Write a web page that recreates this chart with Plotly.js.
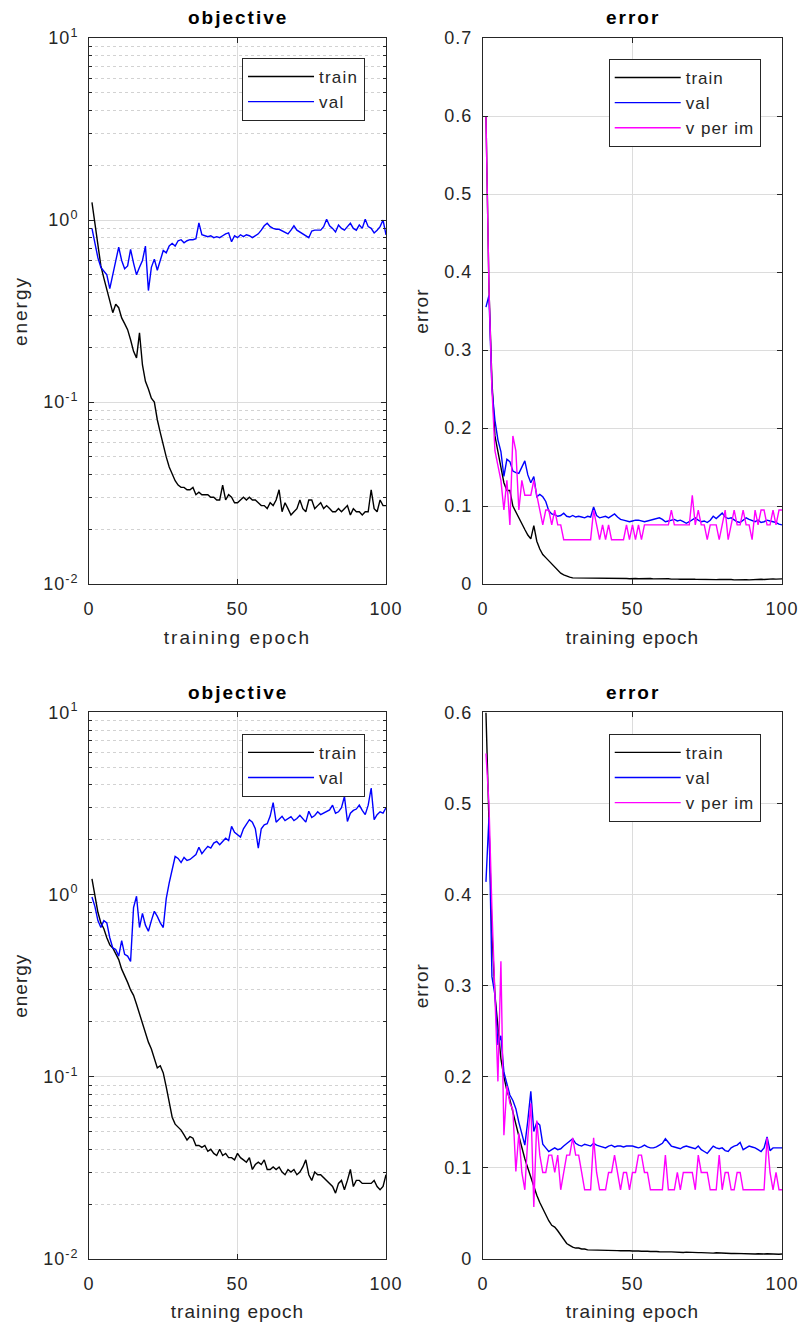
<!DOCTYPE html>
<html>
<head>
<meta charset="utf-8">
<script src="https://cdn.plot.ly/plotly-3.0.1.min.js"></script>
<style>
  html, body { margin: 0; padding: 0; background: #fff; }
  #chart { width: 803px; height: 1333px; }
  text { letter-spacing: 1px; }
  .xtitle, .ytitle, .annotation-text { letter-spacing: 2px; }
  .legendtext { letter-spacing: 1.2px; }
</style>
</head>
<body>
<div id="chart"></div>
<script>
// ---------- data (epochs 1..100) ----------
const epochs = Array.from({length: 100}, (_, i) => i + 1);

// run 1 : objective
const trainObj1 = [1.25,0.95,0.70,0.56,0.48,0.42,0.36,0.31,0.345,0.33,
0.29,0.27,0.25,0.22,0.19,0.175,0.24,0.16,0.13,0.118,
0.105,0.100,0.080,0.068,0.058,0.050,0.044,0.040,0.037,0.035,
0.034,0.034,0.033,0.033,0.034,0.031,0.032,0.031,0.031,0.031,
0.030,0.030,0.029,0.029,0.035,0.029,0.031,0.030,0.028,0.028,
0.029,0.030,0.029,0.030,0.029,0.029,0.028,0.027,0.027,0.026,
0.028,0.027,0.029,0.033,0.025,0.028,0.026,0.024,0.025,0.026,
0.029,0.026,0.025,0.029,0.029,0.026,0.027,0.028,0.026,0.027,
0.026,0.025,0.025,0.026,0.025,0.026,0.027,0.024,0.026,0.025,
0.025,0.024,0.025,0.025,0.033,0.026,0.025,0.029,0.027,0.027];

const valObj1 = [0.90,0.75,0.62,0.55,0.52,0.50,0.42,0.50,0.60,0.71,
0.60,0.54,0.56,0.69,0.58,0.50,0.55,0.60,0.72,0.41,
0.55,0.61,0.53,0.60,0.68,0.66,0.72,0.745,0.72,0.77,
0.78,0.75,0.77,0.78,0.78,0.79,0.965,0.83,0.82,0.81,
0.82,0.80,0.81,0.80,0.82,0.84,0.85,0.76,0.82,0.80,
0.83,0.81,0.83,0.82,0.80,0.82,0.84,0.88,0.93,0.96,
0.92,0.90,0.89,0.89,0.87,0.85,0.84,0.88,0.93,0.88,
0.86,0.84,0.82,0.80,0.87,0.88,0.88,0.88,0.92,1.01,
0.93,0.90,0.86,0.94,0.90,0.88,0.92,0.96,0.90,0.88,
0.94,0.90,1.01,0.92,0.90,0.85,0.88,0.92,1.00,0.83];

// run 1 : error
const trainErr1 = [0.60,0.38,0.26,0.19,0.17,0.15,0.13,0.12,0.12,0.10,
0.092,0.085,0.078,0.070,0.063,0.058,0.075,0.055,0.045,0.038,
0.034,0.030,0.026,0.021,0.017,0.014,0.012,0.010,0.009,0.008,
0.008,0.008,0.008,0.0078,0.008,0.0075,0.008,0.0078,0.0075,0.008,
0.0078,0.0075,0.0078,0.0075,0.0072,0.0075,0.0078,0.0072,0.007,0.0075,
0.0072,0.007,0.0072,0.0068,0.007,0.0072,0.0068,0.007,0.0068,0.0065,
0.0068,0.007,0.0065,0.0068,0.0065,0.0062,0.0065,0.0068,0.0062,0.0065,
0.0062,0.006,0.0065,0.0062,0.006,0.0062,0.006,0.0058,0.006,0.0062,
0.006,0.0058,0.006,0.0055,0.0058,0.006,0.0055,0.0058,0.0055,0.0058,
0.006,0.0058,0.0062,0.006,0.0065,0.0062,0.0068,0.0065,0.007,0.0068];

const valErr1 = [0.355,0.37,0.25,0.21,0.185,0.17,0.138,0.16,0.157,0.145,
0.143,0.142,0.15,0.158,0.14,0.13,0.138,0.112,0.115,0.112,
0.106,0.094,0.090,0.089,0.087,0.088,0.091,0.087,0.086,0.088,
0.086,0.087,0.086,0.085,0.087,0.086,0.099,0.088,0.085,0.086,
0.087,0.085,0.088,0.090,0.086,0.083,0.082,0.081,0.080,0.081,
0.082,0.082,0.081,0.080,0.081,0.082,0.083,0.084,0.085,0.083,
0.080,0.081,0.082,0.083,0.081,0.082,0.080,0.078,0.080,0.083,
0.085,0.082,0.080,0.081,0.079,0.082,0.087,0.084,0.088,0.091,
0.086,0.084,0.085,0.082,0.080,0.079,0.082,0.085,0.083,0.081,
0.080,0.082,0.079,0.080,0.082,0.081,0.080,0.079,0.077,0.076];

const vpiErr1 = [0.60,0.38,0.25,0.171,0.152,0.133,0.095,0.133,0.076,0.19,
0.171,0.095,0.133,0.114,0.114,0.114,0.133,0.114,0.095,0.076,
0.095,0.095,0.076,0.095,0.076,0.076,0.057,0.057,0.057,0.057,
0.057,0.057,0.057,0.057,0.057,0.057,0.095,0.076,0.057,0.076,
0.057,0.076,0.057,0.057,0.057,0.057,0.057,0.076,0.057,0.076,
0.057,0.076,0.057,0.076,0.076,0.076,0.076,0.076,0.076,0.076,
0.076,0.076,0.095,0.076,0.076,0.076,0.076,0.076,0.076,0.114,
0.076,0.095,0.076,0.076,0.057,0.076,0.076,0.076,0.057,0.076,
0.095,0.057,0.076,0.095,0.076,0.076,0.095,0.076,0.076,0.057,
0.095,0.076,0.095,0.095,0.076,0.076,0.095,0.076,0.095,0.095];

// run 2 : objective
const trainObj2 = [1.22,0.98,0.80,0.70,0.65,0.58,0.53,0.51,0.47,0.44,
0.39,0.36,0.33,0.30,0.28,0.25,0.22,0.20,0.175,0.155,
0.142,0.125,0.112,0.115,0.105,0.088,0.072,0.060,0.055,0.053,
0.051,0.048,0.045,0.047,0.046,0.042,0.042,0.041,0.042,0.039,
0.040,0.038,0.037,0.040,0.037,0.038,0.036,0.036,0.035,0.038,
0.036,0.035,0.034,0.036,0.031,0.033,0.034,0.033,0.035,0.031,
0.031,0.032,0.031,0.032,0.030,0.029,0.031,0.030,0.031,0.029,
0.030,0.032,0.035,0.029,0.027,0.030,0.029,0.029,0.028,0.027,
0.026,0.025,0.023,0.026,0.027,0.024,0.027,0.031,0.025,0.027,
0.027,0.026,0.026,0.026,0.026,0.027,0.025,0.024,0.025,0.029];

const valObj2 = [0.97,0.86,0.72,0.66,0.72,0.70,0.58,0.51,0.50,0.46,
0.56,0.47,0.46,0.43,0.85,0.98,0.66,0.79,0.68,0.63,
0.72,0.81,0.76,0.70,0.66,0.95,1.16,1.38,1.62,1.58,
1.50,1.60,1.54,1.56,1.62,1.66,1.82,1.68,1.76,1.84,
1.80,1.92,1.96,1.88,1.96,2.04,1.98,2.37,2.20,2.13,
2.07,2.30,2.42,2.58,2.50,2.30,1.80,2.30,2.42,2.45,
2.70,3.20,2.50,2.60,2.69,2.55,2.62,2.68,2.55,2.62,
2.73,2.60,2.50,2.87,2.65,2.72,2.85,2.75,2.80,2.85,
2.92,3.10,2.80,2.85,3.00,3.46,2.52,2.80,2.90,2.95,
3.10,2.90,2.75,3.10,3.85,2.58,2.75,2.85,2.80,3.00];

// run 2 : error
const trainErr2 = [0.60,0.48,0.36,0.29,0.25,0.22,0.20,0.185,0.175,0.16,
0.148,0.135,0.122,0.110,0.100,0.090,0.078,0.070,0.062,0.055,
0.048,0.042,0.037,0.035,0.031,0.026,0.021,0.017,0.015,0.013,
0.012,0.012,0.011,0.011,0.010,0.010,0.010,0.0098,0.0095,0.0098,
0.0095,0.0095,0.0092,0.0095,0.0092,0.009,0.0092,0.009,0.009,0.0088,
0.009,0.0088,0.0085,0.0088,0.0085,0.0082,0.0085,0.0082,0.008,0.0082,
0.008,0.0078,0.0078,0.0075,0.0078,0.0075,0.0072,0.0075,0.0072,0.007,
0.0072,0.007,0.007,0.0068,0.007,0.0068,0.0065,0.0068,0.0065,0.0062,
0.0065,0.0062,0.006,0.0062,0.006,0.0062,0.006,0.0058,0.006,0.0058,
0.0055,0.0058,0.0055,0.0055,0.0058,0.0055,0.0052,0.0055,0.0052,0.0055];

const valErr2 = [0.414,0.485,0.31,0.29,0.235,0.245,0.205,0.192,0.18,0.174,
0.165,0.15,0.138,0.125,0.152,0.184,0.14,0.15,0.147,0.126,
0.122,0.118,0.12,0.122,0.12,0.121,0.124,0.127,0.13,0.132,
0.127,0.125,0.124,0.126,0.125,0.124,0.127,0.125,0.124,0.123,
0.122,0.124,0.125,0.123,0.124,0.124,0.123,0.124,0.124,0.124,
0.123,0.122,0.123,0.125,0.123,0.122,0.122,0.123,0.125,0.127,
0.132,0.128,0.124,0.123,0.122,0.121,0.123,0.124,0.123,0.122,
0.121,0.124,0.12,0.118,0.116,0.12,0.124,0.122,0.121,0.122,
0.119,0.118,0.122,0.124,0.125,0.128,0.12,0.122,0.124,0.123,
0.122,0.12,0.118,0.122,0.134,0.119,0.122,0.122,0.122,0.122];

const vpiErr2 = [0.555,0.50,0.384,0.29,0.195,0.327,0.136,0.19,0.171,0.164,
0.096,0.138,0.095,0.076,0.133,0.171,0.057,0.152,0.114,0.095,
0.095,0.114,0.114,0.095,0.114,0.076,0.095,0.114,0.114,0.133,
0.114,0.114,0.095,0.076,0.076,0.076,0.133,0.095,0.076,0.076,
0.076,0.095,0.095,0.114,0.095,0.076,0.095,0.095,0.076,0.095,
0.095,0.114,0.114,0.095,0.095,0.076,0.076,0.076,0.076,0.076,
0.114,0.076,0.076,0.076,0.095,0.076,0.095,0.095,0.095,0.095,
0.076,0.114,0.095,0.095,0.095,0.076,0.076,0.076,0.114,0.076,
0.095,0.095,0.076,0.076,0.095,0.095,0.076,0.076,0.076,0.076,
0.076,0.076,0.076,0.076,0.133,0.095,0.076,0.095,0.076,0.076];

// ---------- labels ----------
const seriesNames = ['train', 'val', 'v per im'];
const panelTitles = ['objective', 'error', 'objective', 'error'];
const xTickVals = [0, 50, 100];
const logTickVals = [0.01, 0.1, 1, 10];
const logTickText = ['10<sup>-2</sup>', '10<sup>-1</sup>', '10<sup>0</sup>', '10<sup>1</sup>'];

// ---------- styling ----------
const FONT = '"Liberation Sans", Arial, Helvetica, sans-serif';
const AX = '#262626';
const colors = {train: '#000000', val: '#0000ff', vpi: '#ff00ff'};
const LW = 1.4;

function line(x, y, name, color, xa, ya, legend) {
  return {x: x, y: y, name: name, type: 'scatter', mode: 'lines',
          line: {color: color, width: LW}, xaxis: xa, yaxis: ya, legend: legend,
          hoverinfo: 'x+y+name'};
}

const traces = [
  line(epochs, trainObj1, seriesNames[0], colors.train, 'x', 'y', 'legend'),
  line(epochs, valObj1, seriesNames[1], colors.val, 'x', 'y', 'legend'),
  line(epochs, trainErr1, seriesNames[0], colors.train, 'x2', 'y2', 'legend2'),
  line(epochs, valErr1, seriesNames[1], colors.val, 'x2', 'y2', 'legend2'),
  line(epochs, vpiErr1, seriesNames[2], colors.vpi, 'x2', 'y2', 'legend2'),
  line(epochs, trainObj2, seriesNames[0], colors.train, 'x3', 'y3', 'legend3'),
  line(epochs, valObj2, seriesNames[1], colors.val, 'x3', 'y3', 'legend3'),
  line(epochs, trainErr2, seriesNames[0], colors.train, 'x4', 'y4', 'legend4'),
  line(epochs, valErr2, seriesNames[1], colors.val, 'x4', 'y4', 'legend4'),
  line(epochs, vpiErr2, seriesNames[2], colors.vpi, 'x4', 'y4', 'legend4')
];

// minor tick positions for the log axes (2..9 of every decade)
const minorLog = [];
[0.01, 0.1, 1].forEach(d => { for (let k = 2; k <= 9; k++) minorLog.push(+(k * d).toPrecision(3)); });

const tickFont = {family: FONT, size: 18, color: AX};
const titleFont = {family: FONT, size: 19, color: AX};

function xAxis(domain, anchor) {
  return {
    domain: domain, anchor: anchor, range: [0, 100],
    tickmode: 'array', tickvals: xTickVals,
    ticks: 'inside', ticklen: 5, tickcolor: AX, tickwidth: 1,
    showline: true, linecolor: AX, linewidth: 1, mirror: 'ticks',
    showgrid: true, gridcolor: '#dcdcdc', gridwidth: 1, zeroline: false,
    tickfont: tickFont, ticklabelstandoff: 8,
    title: {text: 'training epoch', font: titleFont, standoff: 12},
    automargin: false, fixedrange: true
  };
}
function logAxis(domain, anchor) {
  return {
    domain: domain, anchor: anchor, type: 'log', range: [-2, 1],
    tickmode: 'array', tickvals: logTickVals, ticktext: logTickText,
    ticks: 'inside', ticklen: 5, tickcolor: AX, tickwidth: 1,
    showline: true, linecolor: AX, linewidth: 1, mirror: 'ticks',
    showgrid: true, gridcolor: '#dcdcdc', gridwidth: 1, zeroline: false,
    minor: {tickmode: 'array', tickvals: minorLog, ticks: 'inside', ticklen: 3,
            tickcolor: AX, showgrid: true, griddash: 'dot', gridcolor: '#d2d2d2', gridwidth: 1},
    tickfont: tickFont, ticklabelstandoff: 6,
    title: {text: 'energy', font: titleFont, standoff: 10},
    automargin: false, fixedrange: true
  };
}
function linAxis(domain, anchor, top) {
  return {
    domain: domain, anchor: anchor, range: [0, top], dtick: 0.1, tick0: 0,
    ticks: 'inside', ticklen: 5, tickcolor: AX, tickwidth: 1,
    showline: true, linecolor: AX, linewidth: 1, mirror: 'ticks',
    showgrid: true, gridcolor: '#dcdcdc', gridwidth: 1, zeroline: false,
    tickfont: tickFont, ticklabelstandoff: 6,
    title: {text: 'error', font: titleFont, standoff: 10},
    automargin: false, fixedrange: true
  };
}
function legendBox(x, y) {
  return {x: x, y: y, xanchor: 'right', yanchor: 'top', xref: 'paper', yref: 'paper',
          bgcolor: '#ffffff', bordercolor: AX, borderwidth: 1,
          font: {family: FONT, size: 17, color: AX}, itemwidth: 66,
          tracegroupgap: 0, itemclick: false, itemdoubleclick: false};
}

const dL = [0, 0.4286], dR = [0.5685, 1];
const dT = [0.5527, 1], dB = [0, 0.4476];

function panelTitle(text, x, y) {
  return {text: '<b>' + text + '</b>', x: x, y: y, xref: 'paper', yref: 'paper',
          xanchor: 'center', yanchor: 'middle', showarrow: false,
          font: {family: FONT, size: 19, color: '#000000'}};
}

const layout = {
  width: 803, height: 1333,
  margin: {l: 89, r: 21, t: 38, b: 74, pad: 0},
  paper_bgcolor: '#ffffff', plot_bgcolor: '#ffffff',
  font: {family: FONT, color: AX},
  showlegend: true,
  xaxis: xAxis(dL, 'y'), yaxis: logAxis(dT, 'x'),
  xaxis2: xAxis(dR, 'y2'), yaxis2: linAxis(dT, 'x2', 0.7),
  xaxis3: xAxis(dL, 'y3'), yaxis3: logAxis(dB, 'x3'),
  xaxis4: xAxis(dR, 'y4'), yaxis4: linAxis(dB, 'x4', 0.6),
  legend: legendBox(0.3983, 0.9836),
  legend2: legendBox(0.9693, 0.9828),
  legend3: legendBox(0.3983, 0.4301),
  legend4: legendBox(0.9693, 0.4301),
  annotations: [
    panelTitle(panelTitles[0], 0.2143, 1.0164),
    panelTitle(panelTitles[1], 0.7843, 1.0164),
    panelTitle(panelTitles[2], 0.2143, 0.4637),
    panelTitle(panelTitles[3], 0.7843, 0.4637)
  ]
};

Plotly.newPlot('chart', traces, layout, {displayModeBar: false, staticPlot: false, responsive: false});
</script>
</body>
</html>
